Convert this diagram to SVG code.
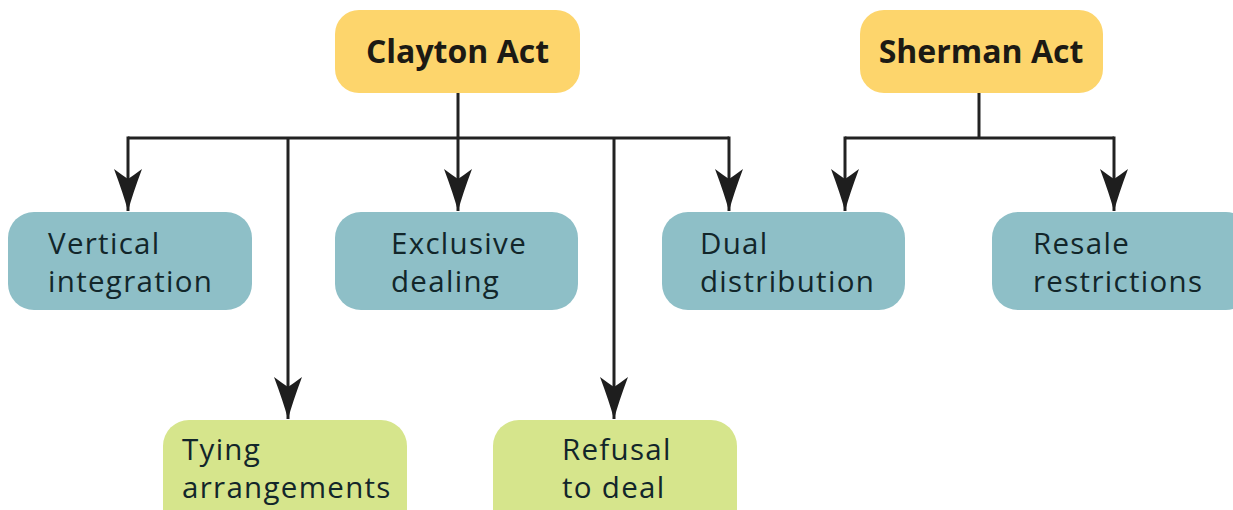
<svg xmlns="http://www.w3.org/2000/svg" width="1233" height="510" viewBox="0 0 1233 510">
  <style>
    .act { fill: #FDD56C; }
    .teal { fill: #8EBFC7; }
    .lime { fill: #D6E58C; }
    .title { font-family: "Open Sans", "Liberation Sans", sans-serif; font-weight: 700; font-size: 32px; fill: #1c1a14; text-anchor: middle; }
    .label { font-family: "Open Sans", "Liberation Sans", sans-serif; font-size: 29.5px; letter-spacing: 1.3px; fill: #12262a; }
    .wire { fill: none; stroke: #222; stroke-width: 3; }
  </style>
  <defs>
    <!-- barbed arrowhead, drawn pointing along +x so orient="auto" turns it down the wire -->
    <marker id="barb" markerUnits="userSpaceOnUse" markerWidth="46" markerHeight="30" refX="44" refY="15" orient="auto" viewBox="0 0 46 30">
      <path d="M44 15 Q26 10 2 1 Q8 9 12 15 Q8 21 2 29 Q26 20 44 15 Z" fill="#1e1e1e"/>
    </marker>
  </defs>

  <!-- connectors -->
  <g id="connectors">
    <path class="wire" d="M458 93 V138"/>
    <path class="wire" d="M128 138 H729"/>
    <path class="wire" d="M128 136.5 V211" marker-end="url(#barb)"/>
    <path class="wire" d="M288 138 V419" marker-end="url(#barb)"/>
    <path class="wire" d="M458 138 V211" marker-end="url(#barb)"/>
    <path class="wire" d="M614 138 V419" marker-end="url(#barb)"/>
    <path class="wire" d="M729 136.5 V211" marker-end="url(#barb)"/>
    <path class="wire" d="M979 93 V138"/>
    <path class="wire" d="M845 138 H1114"/>
    <path class="wire" d="M845 136.5 V211" marker-end="url(#barb)"/>
    <path class="wire" d="M1114 136.5 V211" marker-end="url(#barb)"/>
  </g>

  <g id="clayton-act">
    <rect class="act" x="335" y="10" width="245" height="83" rx="24"/>
    <text class="title" x="457.5" y="63">Clayton Act</text>
  </g>

  <g id="sherman-act">
    <rect class="act" x="860" y="10" width="243" height="83" rx="24"/>
    <text class="title" x="981" y="63">Sherman Act</text>
  </g>

  <g id="vertical-integration">
    <rect class="teal" x="8" y="212" width="244" height="98" rx="26"/>
    <text class="label" x="48" y="254">Vertical</text>
    <text class="label" x="48" y="292">integration</text>
  </g>

  <g id="exclusive-dealing">
    <rect class="teal" x="335" y="212" width="243" height="98" rx="26"/>
    <text class="label" x="391" y="254">Exclusive</text>
    <text class="label" x="391" y="292">dealing</text>
  </g>

  <g id="dual-distribution">
    <rect class="teal" x="662" y="212" width="243" height="98" rx="26"/>
    <text class="label" x="700" y="254">Dual</text>
    <text class="label" x="700" y="292">distribution</text>
  </g>

  <g id="resale-restrictions">
    <rect class="teal" x="992" y="212" width="260" height="98" rx="26"/>
    <text class="label" x="1033" y="254">Resale</text>
    <text class="label" x="1033" y="292">restrictions</text>
  </g>

  <g id="tying-arrangements">
    <rect class="lime" x="163" y="420" width="244" height="120" rx="26"/>
    <text class="label" x="182" y="460">Tying</text>
    <text class="label" x="182" y="498">arrangements</text>
  </g>

  <g id="refusal-to-deal">
    <rect class="lime" x="493" y="420" width="244" height="120" rx="26"/>
    <text class="label" x="562" y="460">Refusal</text>
    <text class="label" x="562" y="498">to deal</text>
  </g>
</svg>
